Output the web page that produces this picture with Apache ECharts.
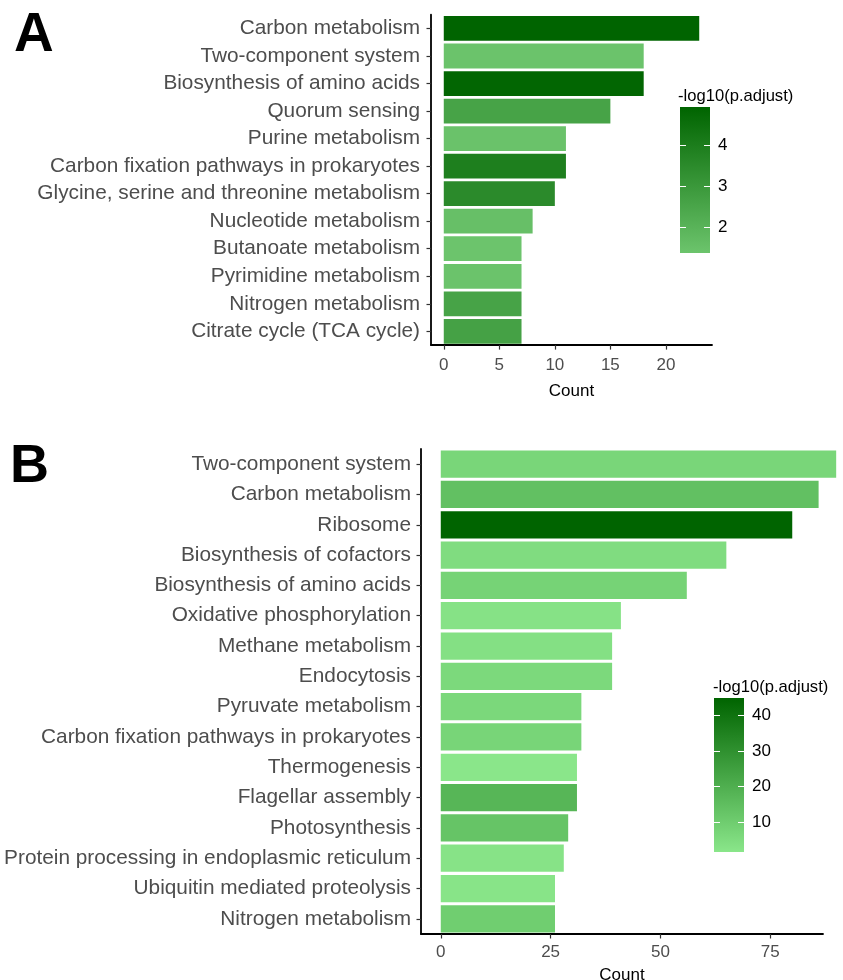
<!DOCTYPE html>
<html>
<head>
<meta charset="utf-8">
<script src="https://cdn.jsdelivr.net/npm/echarts@6/dist/echarts.min.js"></script>
<style>
  html, body { margin: 0; padding: 0; background: #fff; }
  #chart { width: 843px; height: 980px; }
</style>
</head>
<body>
<div id="chart"></div>
<script>
// ---- panel A ----
const termsA = [
  "Carbon metabolism",
  "Two-component system",
  "Biosynthesis of amino acids",
  "Quorum sensing",
  "Purine metabolism",
  "Carbon fixation pathways in prokaryotes",
  "Glycine, serine and threonine metabolism",
  "Nucleotide metabolism",
  "Butanoate metabolism",
  "Pyrimidine metabolism",
  "Nitrogen metabolism",
  "Citrate cycle (TCA cycle)"
];
const countA = [23, 18, 18, 15, 11, 11, 10, 8, 7, 7, 7, 7];
const padjA = [4.93, 1.4, 4.85, 2.6, 1.45, 3.93, 3.52, 1.55, 1.37, 1.4, 2.6, 2.65];
const ticksA = [0, 5, 10, 15, 20];
const legendTicksA = [2, 3, 4];

// ---- panel B ----
const termsB = [
  "Two-component system",
  "Carbon metabolism",
  "Ribosome",
  "Biosynthesis of cofactors",
  "Biosynthesis of amino acids",
  "Oxidative phosphorylation",
  "Methane metabolism",
  "Endocytosis",
  "Pyruvate metabolism",
  "Carbon fixation pathways in prokaryotes",
  "Thermogenesis",
  "Flagellar assembly",
  "Photosynthesis",
  "Protein processing in endoplasmic reticulum",
  "Ubiquitin mediated proteolysis",
  "Nitrogen metabolism"
];
const countB = [90, 86, 80, 65, 56, 41, 39, 39, 32, 32, 31, 31, 29, 28, 26, 26];
const padjB = [7.1, 14.4, 44.7, 5.1, 8.1, 3.2, 3.8, 6.1, 6.5, 7.5, 1.84, 17.7, 13.1, 2.8, 2.5, 9.8];
const ticksB = [0, 25, 50, 75];
const legendTicksB = [10, 20, 30, 40];

const colorsA = ["#6cc46c", "#006400"];
const colorsB = ["#8ae68a", "#006400"];

const FONT = '"Liberation Sans", Arial, sans-serif';
const chart = echarts.init(document.getElementById("chart"), null, { renderer: "canvas" });

const minA = Math.min(...padjA), maxA = Math.max(...padjA);
const minB = Math.min(...padjB), maxB = Math.max(...padjB);

function gradient(colors) {
  // top of the colour bar is the high end
  return new echarts.graphic.LinearGradient(0, 0, 0, 1, [
    { offset: 0, color: colors[1] },
    { offset: 1, color: colors[0] }
  ]);
}

function countAxis(grid, min, max, ticks, margin, gap) {
  return {
    gridIndex: grid, type: "value", min: min, max: max,
    splitLine: { show: false },
    axisLine: { show: true, lineStyle: { color: "#000", width: 1.8 } },
    axisTick: { show: true, customValues: ticks, length: 4.5, lineStyle: { color: "#333", width: 1.2 } },
    axisLabel: { customValues: ticks, margin: margin, fontSize: 17, color: "#4d4d4d", fontFamily: FONT },
    name: "Count", nameLocation: "middle", nameGap: gap,
    nameTextStyle: { fontSize: 17, color: "#000", fontFamily: FONT }
  };
}

function termAxis(grid, terms, margin) {
  return {
    gridIndex: grid, type: "category", data: terms, inverse: true,
    axisLine: { show: true, onZero: false, lineStyle: { color: "#000", width: 1.8 } },
    axisTick: { show: true, alignWithLabel: true, interval: 0, length: 4.5, lineStyle: { color: "#333", width: 1.2 } },
    axisLabel: { interval: 0, margin: margin, fontSize: 20.8, color: "#4d4d4d", fontFamily: FONT }
  };
}

function legendAxis(grid, min, max, ticks, side) {
  return {
    gridIndex: grid, type: "value", min: min, max: max, position: side,
    splitLine: { show: false },
    axisLine: { show: false, onZero: false },
    axisTick: { show: true, inside: true, customValues: ticks, length: 6, lineStyle: { color: "#fff", width: 1 } },
    axisLabel: { show: side === "right", customValues: ticks, margin: 8, fontSize: 17, color: "#000", fontFamily: FONT }
  };
}

const option = {
  backgroundColor: "#fff",
  animation: false,
  title: [
    { text: "A", left: 14, top: 8, padding: 0, textStyle: { fontSize: 55, fontWeight: "bold", color: "#000", fontFamily: FONT } },
    { text: "B", left: 10, top: 440, padding: 0, textStyle: { fontSize: 54, fontWeight: "bold", color: "#000", fontFamily: FONT } },
    { text: "-log10(p.adjust)", left: 678, top: 88, padding: 0, textStyle: { fontSize: 16.6, fontWeight: "normal", color: "#000", fontFamily: FONT } },
    { text: "-log10(p.adjust)", left: 713, top: 679, padding: 0, textStyle: { fontSize: 16.6, fontWeight: "normal", color: "#000", fontFamily: FONT } }
  ],
  grid: [
    { left: 431, top: 14.7, width: 281, height: 330.4, containLabel: false, outerBoundsMode: "none" },
    { left: 421, top: 449, width: 402, height: 485, containLabel: false, outerBoundsMode: "none" },
    // colour bars
    { left: 680, top: 107, width: 30, height: 146, show: true, borderWidth: 0, backgroundColor: gradient(colorsA), outerBoundsMode: "none" },
    { left: 714, top: 698, width: 30, height: 154, show: true, borderWidth: 0, backgroundColor: gradient(colorsB), outerBoundsMode: "none" }
  ],
  xAxis: [
    countAxis(0, -1.15, 24.15, ticksA, 12, 38),
    countAxis(1, -4.5, 87, ticksB, 10, 33),
    { gridIndex: 2, type: "value", show: false },
    { gridIndex: 3, type: "value", show: false }
  ],
  yAxis: [
    termAxis(0, termsA, 11),
    termAxis(1, termsB, 10),
    legendAxis(2, minA, maxA, legendTicksA, "left"),
    legendAxis(2, minA, maxA, legendTicksA, "right"),
    legendAxis(3, minB, maxB, legendTicksB, "left"),
    legendAxis(3, minB, maxB, legendTicksB, "right")
  ],
  visualMap: [
    { show: false, seriesIndex: 0, dimension: 2, min: minA, max: maxA, inRange: { color: colorsA } },
    { show: false, seriesIndex: 1, dimension: 2, min: minB, max: maxB, inRange: { color: colorsB } }
  ],
  series: [
    {
      type: "bar", xAxisIndex: 0, yAxisIndex: 0, barWidth: "90%", clip: false,
      encode: { x: 0, y: 1 },
      data: termsA.map((t, i) => [countA[i], i, padjA[i]])
    },
    {
      type: "bar", xAxisIndex: 1, yAxisIndex: 1, barWidth: "90%", clip: false,
      encode: { x: 0, y: 1 },
      data: termsB.map((t, i) => [countB[i], i, padjB[i]])
    }
  ]
};

chart.setOption(option);
</script>
</body>
</html>
